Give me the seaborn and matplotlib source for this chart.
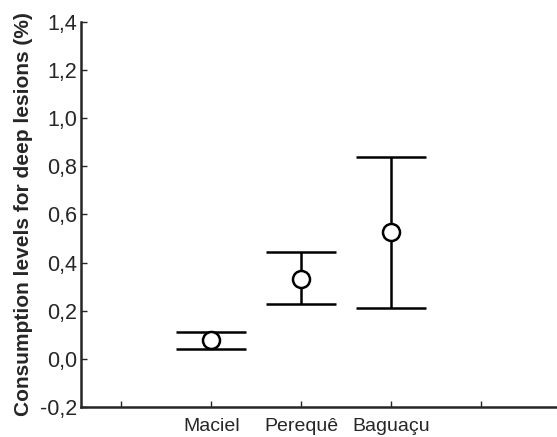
import numpy as np
import pandas as pd
import matplotlib
matplotlib.use("Agg")
import matplotlib.pyplot as plt
from matplotlib.ticker import FuncFormatter
import seaborn as sns

# values
sites = ["Maciel", "Perequê", "Baguaçu"]
means = [0.079, 0.333, 0.527]
lower = [0.042, 0.227, 0.213]
upper = [0.113, 0.446, 0.837]

df = pd.DataFrame({"site": sites, "mean": means, "lo": lower, "hi": upper})
df["x"] = np.arange(1, len(sites) + 1)

sns.set_style("ticks")
plt.rcParams["font.family"] = ["Liberation Sans", "DejaVu Sans"]

fig = plt.figure(figsize=(5.57, 4.37), dpi=100)
ax = fig.add_axes([0.1454, 0.0686, 0.8546, 0.8814])

ax.errorbar(df["x"], df["mean"],
            yerr=[df["mean"] - df["lo"], df["hi"] - df["mean"]],
            fmt="none", ecolor="black", elinewidth=1.8, capsize=25, capthick=1.8, zorder=2)
sns.scatterplot(data=df, x="x", y="mean", ax=ax, s=150, marker="o",
                facecolor="white", edgecolor="black", linewidth=1.8, zorder=3, legend=False)

ax.set_xlim(-0.45, 4.85)
ax.set_ylim(-0.2, 1.4)
ax.set_xticks(range(0, 5))
ax.set_xticklabels([""] + sites + [""])
ax.set_yticks(np.arange(-0.2, 1.41, 0.2))
ax.yaxis.set_major_formatter(FuncFormatter(lambda v, p: f"{v:.1f}".replace(".", ",")))
ax.tick_params(direction="in", length=4, width=1, pad=3)
ax.tick_params(axis="y", labelsize=15.5)
ax.tick_params(axis="x", labelsize=14, pad=8)

ax.set_xlabel("")
ax.set_ylabel("Consumption levels for deep lesions (%)", fontsize=15, fontweight="bold", labelpad=5)

sns.despine(ax=ax)
for s in ["left", "bottom"]:
    ax.spines[s].set_linewidth(1.8)

fig.savefig("out.png", dpi=100)
